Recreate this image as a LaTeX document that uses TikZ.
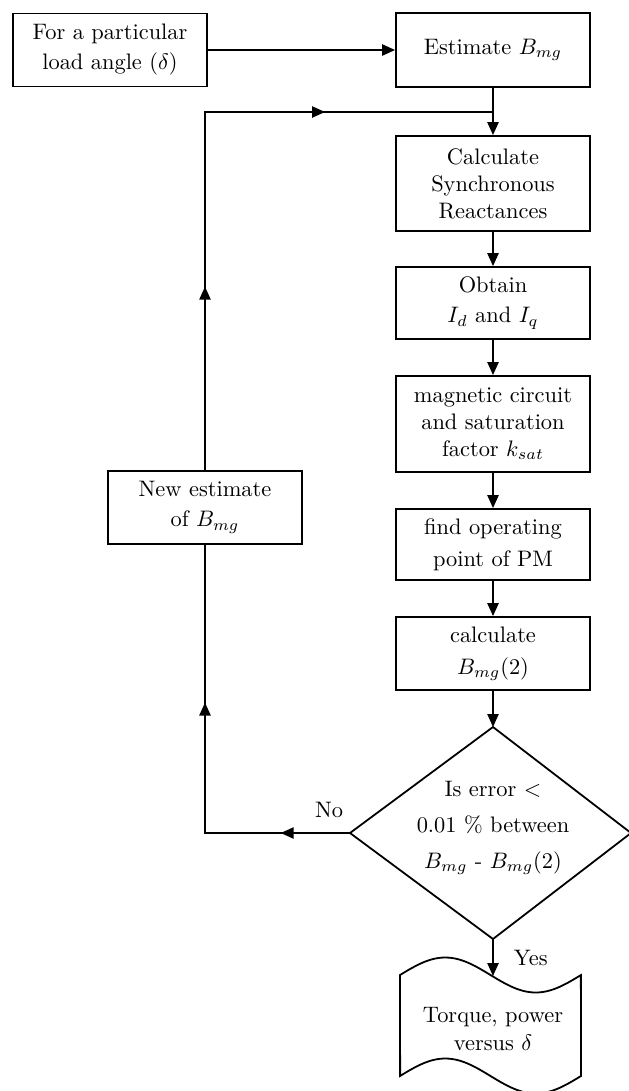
\documentclass[tikz,border=0pt]{standalone}
\usetikzlibrary{arrows.meta,decorations.markings}
\begin{document}
\begin{tikzpicture}[x=0.4464pt,y=-0.4464pt,
  every node/.style={font=\fontsize{10}{13.4}\selectfont, align=center},
  box/.style={draw, line width=0.8pt, minimum width=86.6pt, inner sep=0pt},
  conn/.style={line width=0.8pt},
  arr/.style={-{Triangle[length=5.8pt,width=5pt]}},
  tight/.style={font=\fontsize{10}{12}\selectfont},
  loose/.style={font=\fontsize{10}{14.3}\selectfont}
]
\useasboundingbox (0,0) rectangle (629,1091);

% boxes
\node[box, minimum height=32.6pt] (start) at (110,50) {For a particular\\load angle ($\delta$)};
\node[box, minimum height=33pt] (est) at (493,50) {Estimate $B_{mg}$};
\node[box, tight, minimum height=42.4pt] (sync) at (493,183.5) {Calculate\\Synchronous\\Reactances};
\node[box, minimum height=32.1pt] (obt) at (493,303) {Obtain\\$I_d$ and $I_q$};
\node[box, tight, minimum height=42.9pt] (mag) at (493,424) {magnetic circuit\\and saturation\\factor $k_{sat}$};
\node[box, loose, minimum height=31.7pt] (find) at (493,544.5) {find operating\\point of PM};
\node[box, loose, minimum height=32.6pt] (calc) at (493,653.5) {calculate\\$B_{mg}(2)$};
\node[box, minimum height=32.6pt] (new) at (205,507.5) {New estimate\\of $B_{mg}$};

% decision
\coordinate (dT) at (493,727);
\coordinate (dR) at (631,833);
\coordinate (dB) at (493,939);
\coordinate (dL) at (350,833);
\draw[conn, line join=miter] (dT) -- (dR) -- (dB) -- (dL) -- cycle;
\node[font=\fontsize{10}{16}\selectfont] (dtext) at (493,828) {Is error $<$\\0.01 \% between\\$B_{mg}$ - $B_{mg}(2)$};

% output (document shape)
\draw[conn, line join=miter]
  plot[domain=0:1, samples=60, smooth] ({400+181*\x},{975-17.5*sin(360*\x)})
  -- plot[domain=1:0, samples=60, smooth] ({400+181*\x},{1076-17.5*sin(360*\x)})
  -- cycle;
\node[font=\fontsize{10}{12.5}\selectfont] (out) at (493,1029) {Torque, power\\versus $\delta$};
\coordinate (outTop) at (493,976);

% junctions
\coordinate (j) at (493,112);
\coordinate (c1) at (205,833);
\coordinate (c2) at (205,112);

% connectors
\draw[conn, arr] (start.east) -- (start.east -| est.west);
\draw[conn, arr] (est) -- (sync);
\draw[conn, arr] (sync) -- (obt);
\draw[conn, arr] (obt) -- (mag);
\draw[conn, arr] (mag) -- (find);
\draw[conn, arr] (find) -- (calc);
\draw[conn, arr] (calc) -- (dT);
\draw[conn, arr] (dB) -- (outTop);

\draw[conn, line join=miter, postaction={decorate},
  decoration={markings,
    mark=at position 0.16 with {\arrow{Triangle[length=5.8pt,width=5pt]}},
    mark=at position 0.636 with {\arrow{Triangle[length=5.8pt,width=5pt]}}}]
  (dL) -- (c1) -- (new.south);
\draw[conn, line join=miter, postaction={decorate},
  decoration={markings,
    mark=at position 0.284 with {\arrow{Triangle[length=5.8pt,width=5pt]}},
    mark=at position 0.74 with {\arrow{Triangle[length=5.8pt,width=5pt]}}}]
  (new.north) -- (c2) -- (j);

% labels
\node (no) at (329,810) {No};
\node[anchor=west] (yes) at (506,958) {Yes};
\end{tikzpicture}
\end{document}
